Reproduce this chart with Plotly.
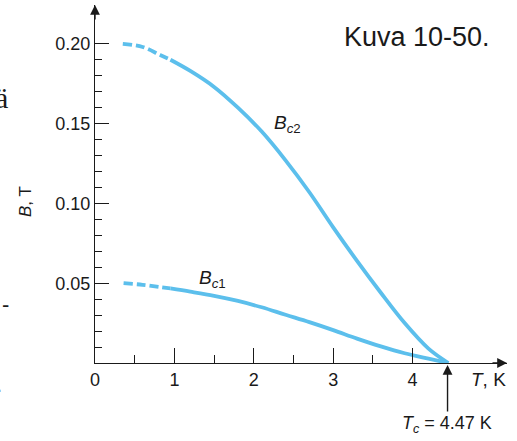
import plotly.graph_objects as go

# Bc2 (yläkriittinen kenttä), luettu kuvasta
t_bc2_dash = [0.35, 0.60, 0.82, 0.95]
b_bc2_dash = [0.200, 0.198, 0.193, 0.190]
t_bc2 = [0.95, 1.2, 1.5, 1.8, 2.1, 2.4, 2.7, 3.0, 3.3, 3.6, 3.9, 4.2, 4.45]
b_bc2 = [0.190, 0.183, 0.173, 0.160, 0.145, 0.127, 0.107, 0.085, 0.064, 0.044, 0.025, 0.009, 0.0]

# Bc1 (alakriittinen kenttä)
t_bc1_dash = [0.36, 0.60, 0.82, 0.95]
b_bc1_dash = [0.050, 0.049, 0.0476, 0.0467]
t_bc1 = [0.95, 1.2, 1.5, 1.8, 2.1, 2.4, 2.7, 3.0, 3.3, 3.6, 3.9, 4.2, 4.45]
b_bc1 = [0.0467, 0.0447, 0.0421, 0.0389, 0.0349, 0.0302, 0.0256, 0.0206, 0.0153, 0.0104, 0.0061, 0.0027, 0.0]

x_ticks = [0, 1, 2, 3, 4]
x_minor = [0.5, 1.5, 2.5, 3.5]
y_ticks = [0.05, 0.10, 0.15, 0.20]
y_labels = ['0.05', '0.10', '0.15', '0.20']
y_minor = [0.01, 0.02, 0.03, 0.04, 0.06, 0.07, 0.08, 0.09, 0.11, 0.12,
           0.13, 0.14, 0.16, 0.17, 0.18, 0.19]
tc = 4.44

BLUE = '#5cbfec'
INK = '#1a1a1a'
FONT = 'Liberation Sans, Arial, sans-serif'

# plot area in pixels: x 95..507, y 5..363
L, R, T, B = 95, 10, 5, 78
W, H = 517, 441
pw, ph = W - L - R, H - T - B
x_max = pw / 79.4
y_max = ph / 1596


def px(x):
    return (x - L) / pw


def py(y):
    return (H - B - y) / ph


fig = go.Figure()
for tx, by in [(t_bc2_dash, b_bc2_dash), (t_bc1_dash, b_bc1_dash)]:
    fig.add_trace(go.Scatter(x=tx, y=by, mode='lines', line_shape='spline',
                             line=dict(color=BLUE, width=3.8, dash='9px,4px')))
for tx, by in [(t_bc2, b_bc2), (t_bc1, b_bc1)]:
    fig.add_trace(go.Scatter(x=tx, y=by, mode='lines', line_shape='spline',
                             line=dict(color=BLUE, width=3.8)))

fig.update_layout(
    width=W, height=H,
    margin=dict(l=L, r=R, t=T, b=B),
    paper_bgcolor='white', plot_bgcolor='white',
    showlegend=False,
    font=dict(family=FONT, size=18, color=INK),
)
fig.update_xaxes(
    range=[0, x_max], showgrid=False, zeroline=False,
    showline=True, linecolor=INK, linewidth=1.4,
    tickmode='array', tickvals=x_ticks, ticktext=[str(v) for v in x_ticks],
    ticks='inside', ticklen=15, tickwidth=1.4, tickcolor=INK,
    minor=dict(tickmode='array', tickvals=x_minor, ticks='inside', ticklen=8,
               tickwidth=1.4, tickcolor=INK),
)
fig.update_yaxes(
    range=[0, y_max], showgrid=False, zeroline=False,
    showline=True, linecolor=INK, linewidth=1.4,
    tickmode='array', tickvals=y_ticks, ticktext=y_labels,
    ticks='inside', ticklen=14, tickwidth=1.4, tickcolor=INK,
    minor=dict(tickmode='array', tickvals=y_minor, ticks='inside', ticklen=7,
               tickwidth=1.4, tickcolor=INK),
)

# akselien nuolet
fig.add_annotation(x=x_max, y=0, ax=-16, ay=0, text='', showarrow=True,
                   arrowhead=2, arrowsize=1.4, arrowwidth=1.4, arrowcolor=INK)
fig.add_annotation(x=0, y=y_max, ax=0, ay=16, text='', showarrow=True,
                   arrowhead=2, arrowsize=1.4, arrowwidth=1.4, arrowcolor=INK)
# Tc-nuoli
fig.add_annotation(x=tc, y=0, ax=0, ay=48, text='', showarrow=True, yshift=-2,
                   arrowhead=2, arrowsize=1.4, arrowwidth=1.4, arrowcolor=INK)

texts = [
    ('Kuva 10-50.', 342, 37, 'left', 27, FONT),
    ('<i>T</i><sub><i>c</i></sub> = 4.47 K', 400, 424, 'left', 18, FONT),
    ('<i>T</i>, K', 469, 379, 'left', 19, FONT),
    ('<i>B</i><sub><i>c</i>2</sub>', 272, 124, 'left', 19, FONT),
    ('<i>B</i><sub><i>c</i>1</sub>', 197, 279, 'left', 19, FONT),
    ('ä', 10, 98, 'right', 30, 'Liberation Serif, serif'),
    ('-', 11, 304, 'right', 22, FONT),
    ('.', 4, 384, 'right', 22, FONT),
]
for txt, x, y, anchor, size, fam in texts:
    fig.add_annotation(x=px(x), y=py(y), xref='paper', yref='paper', text=txt,
                       showarrow=False, xanchor=anchor, yanchor='middle',
                       font=dict(size=size, family=fam, color=INK))

fig.add_annotation(x=px(25), y=py(202), xref='paper', yref='paper',
                   text='<i>B</i>, T', textangle=-90, showarrow=False,
                   xanchor='center', yanchor='middle',
                   font=dict(size=17, color=INK))

fig.write_html("out.html", config={'displayModeBar': False},
               post_script="document.body.style.margin='0';")
